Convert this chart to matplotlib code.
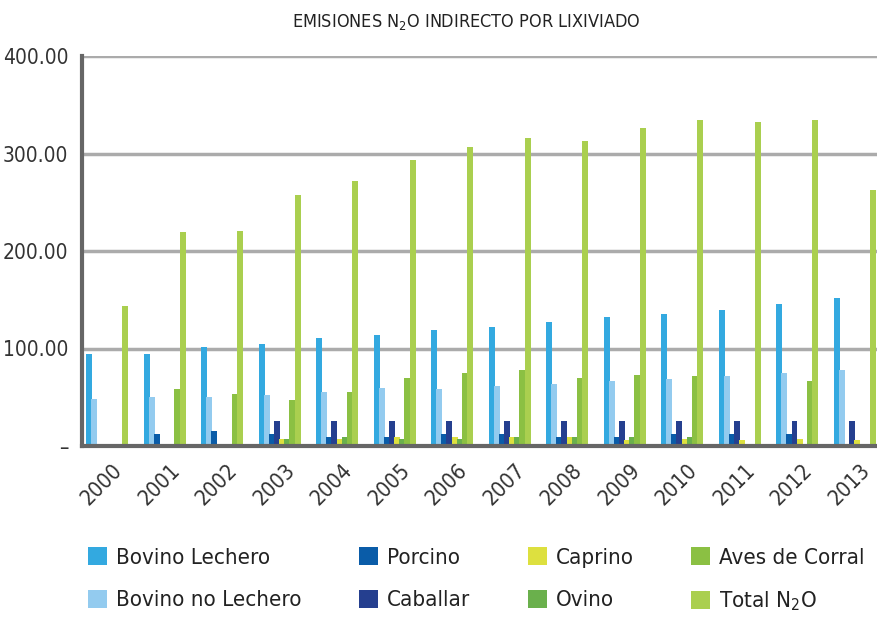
import matplotlib
matplotlib.use("Agg")
import matplotlib.pyplot as plt
import matplotlib.transforms as mtransforms
import numpy as np
from matplotlib.patches import Patch

plt.rcParams['font.family'] = ['DejaVu Sans']
plt.rcParams['font.stretch'] = 'condensed'
plt.rcParams['mathtext.fontset'] = 'dejavusans'

years = ["2000", "2001", "2002", "2003", "2004", "2005", "2006",
         "2007", "2008", "2009", "2010", "2011", "2012", "2013"]

bovino_lechero = [94, 94, 102, 104.5, 111, 114, 119, 122, 127, 132, 135, 140, 145.5, 152]
bovino_no_lechero = [48, 50, 50, 52, 55, 59.5, 58.5, 61.5, 63.5, 66.5, 68.5, 72, 75, 78]
porcino = [0, 12, 15, 12, 9, 9, 12, 12, 9, 9, 12, 12, 12, 0]
caballar = [0, 0, 0, 25.6, 25.6, 25.6, 25.6, 25.6, 25.6, 25.6, 25.6, 25.6, 25.6, 25.6]
caprino = [0, 0, 0, 7.5, 7.5, 9, 9, 9, 9, 6.5, 7.5, 6.5, 7.5, 6.5]
ovino = [0, 0, 0, 7.5, 9, 7.5, 7.5, 9, 9, 9, 9, 0, 0, 0]
aves_corral = [0, 58, 53, 47, 55, 70, 75, 78, 70, 73, 72, 0, 66.5, 0]
total_n2o = [143.5, 219, 221, 257, 272, 293, 307, 316, 313, 326, 334, 332, 334, 263]

series_names = ["Bovino Lechero", "Bovino no Lechero", "Porcino", "Caballar",
                "Caprino", "Ovino", "Aves de Corral", "Total N$_2$O"]
series = [bovino_lechero, bovino_no_lechero, porcino, caballar,
          caprino, ovino, aves_corral, total_n2o]
colors = ["#33A9E0", "#93CBEF", "#0A5CA8", "#253F8F",
          "#DDE03F", "#6AB04C", "#8BC043", "#AACF4F"]

fig = plt.figure(figsize=(8.77, 6.18), dpi=100)
ax = fig.add_axes([82/877, 1 - 446/618, 1 - 82/877, (446 - 56)/618])

x = np.arange(len(years))
step = 0.0894
width = 0.104
for j, (vals, c) in enumerate(zip(series, colors)):
    ax.bar(x + (j - 3.5) * step, vals, width=width, color=c, linewidth=0, zorder=3)

ax.set_xlim(-0.435, 13.39)
ax.set_ylim(0, 400)
ax.set_yticks([0, 100, 200, 300, 400])
ax.set_yticklabels(["–", "100.00", "200.00", "300.00", "400.00"])
ax.yaxis.grid(True, color="#ABABAB", linewidth=2.5, zorder=0)
ax.set_axisbelow(True)
ax.tick_params(axis='y', length=0, pad=10, labelsize=15, labelcolor="#333333")
ax.set_xticks(x)
ax.set_xticklabels(years, rotation=45, ha='center', va='top', fontsize=15.5, color="#333333")
ax.tick_params(axis='x', length=0, pad=10)
offset = mtransforms.ScaledTranslation(-5/100, 0, fig.dpi_scale_trans)
for lbl in ax.get_xticklabels():
    lbl.set_transform(lbl.get_transform() + offset)

for s in ['top', 'right']:
    ax.spines[s].set_visible(False)
for s in ['left', 'bottom']:
    ax.spines[s].set_color("#666666")
    ax.spines[s].set_linewidth(3)
    ax.spines[s].set_zorder(5)

fig.text(466/877, 1 - 22/618, "EMISIONES N$_2$O INDIRECTO POR LIXIVIADO",
         ha='center', va='center', fontsize=13, color="#222222")

handles = [Patch(facecolor=c, edgecolor='none') for c in colors]
fig.legend(handles, series_names, ncol=4, loc='upper left',
           bbox_to_anchor=(88/877, 1 - 547/618), frameon=False,
           fontsize=16, handlelength=0.85, handleheight=0.85,
           handletextpad=0.4, columnspacing=2.6, labelspacing=1.0,
           labelcolor="#222222", borderpad=0, borderaxespad=0)

fig.savefig("out.png", dpi=100)
